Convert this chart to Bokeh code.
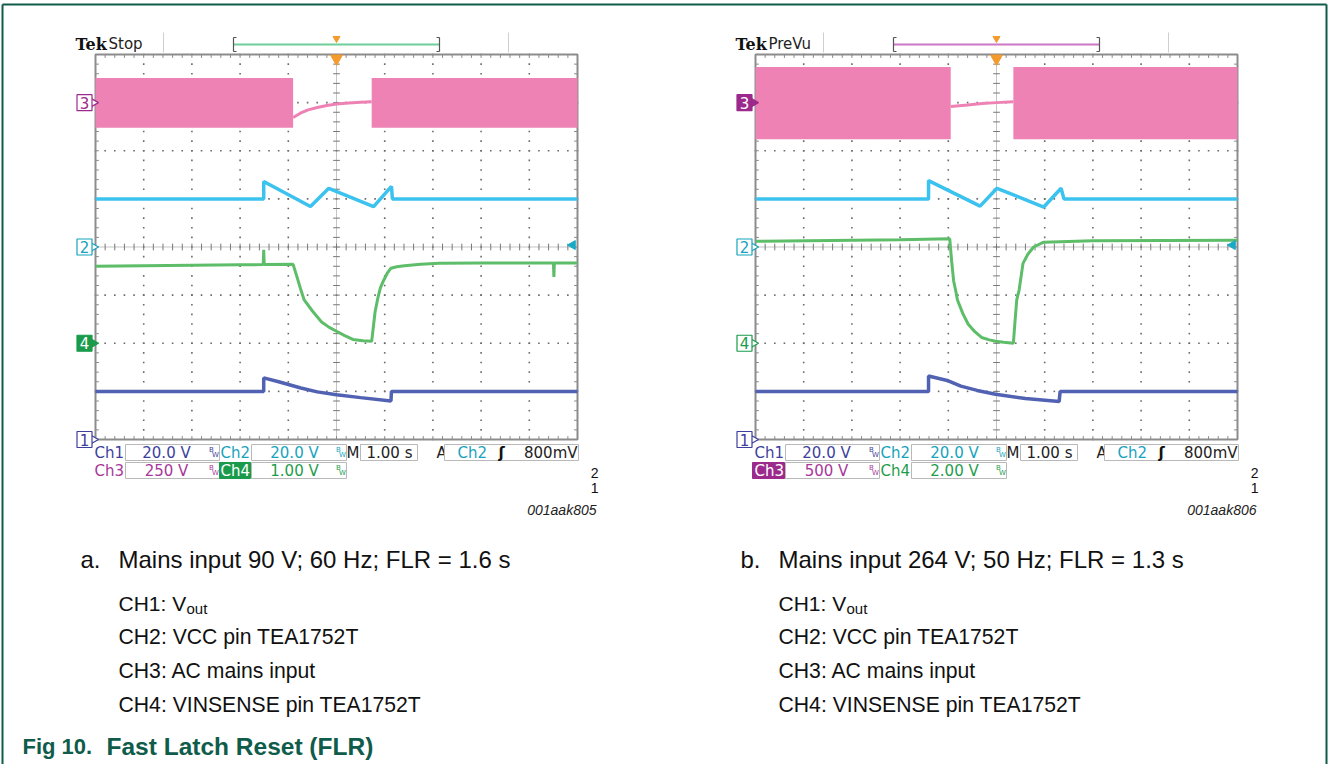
import numpy as np
from bokeh.plotting import figure
from bokeh.models import Range1d
from bokeh.embed import file_html
from bokeh.resources import INLINE
from bokeh.core.properties import value

# ====================== DATA ======================
# horizontal: 1.00 s/div, trigger at t = 0 s ; vertical: screen divisions
time_span = [-5, 5]
div_span = [-4, 4]
ch_level = {"1": -4.0, "2": 0.0, "3": 3.0, "4": -2.0}   # channel ground markers (div)
trig_time = 0.0
trig_level = 0.04                                        # 800 mV on Ch2 at 20 V/div

# ---- panel a : mains 90 V, 60 Hz, FLR = 1.6 s ----
a_ch3_band = [2.48, 3.51]
a_ch3_off = [-0.90, 0.73]
a_ch3_t = [-0.90, -0.75, -0.59, -0.40, -0.20, 0.00, 0.25, 0.50, 0.73]
a_ch3_v = [2.69, 2.78, 2.85, 2.90, 2.94, 2.97, 2.99, 3.01, 3.02]
a_ch2_t = [-5.0, -1.51, -1.51, -0.54, -0.16, 0.77, 1.14, 1.16, 5.0]
a_ch2_v = [1.00, 1.00, 1.36, 0.84, 1.22, 0.84, 1.26, 1.00, 1.00]
a_ch4_t = [-5.0, -2.0, -1.52, -1.51, -1.50, -0.90, -0.82, -0.74, -0.67, -0.50, -0.31, -0.15,
           0.00, 0.17, 0.34, 0.55, 0.73, 0.80, 0.86, 0.91, 0.98, 1.05, 1.13, 1.25, 1.41,
           1.75, 2.13, 3.00, 4.50, 4.51, 4.52, 5.0]
a_ch4_v = [-0.40, -0.37, -0.365, -0.06, -0.365, -0.36, -0.62, -0.89, -1.10, -1.33, -1.56, -1.67,
           -1.75, -1.84, -1.92, -1.95, -1.96, -1.35, -1.05, -0.85, -0.69, -0.55, -0.44, -0.41, -0.39,
           -0.36, -0.34, -0.33, -0.33, -0.62, -0.33, -0.33]
a_ch1_t = [-5.0, -1.51, -1.51, -1.20, -0.74, -0.40, 0.00, 0.50, 1.13, 1.14, 5.0]
a_ch1_v = [-3.0, -3.0, -2.72, -2.80, -2.93, -3.01, -3.07, -3.13, -3.20, -3.0, -3.0]
a_settings = {"ch1": "20.0 V", "ch2": "20.0 V", "ch3": "250 V", "ch4": "1.00 V",
              "time": "1.00 s", "trig": "800mV", "state": "Stop", "id": "001aak805"}

# ---- panel b : mains 264 V, 50 Hz, FLR = 1.3 s ----
b_ch3_band = [2.24, 3.74]
b_ch3_off = [-0.95, 0.35]
b_ch3_t = [-0.95, -0.60, -0.30, 0.00, 0.35]
b_ch3_v = [2.92, 2.95, 2.98, 3.00, 3.02]
b_ch2_t = [-5.0, -1.41, -1.41, -0.34, 0.01, 0.98, 1.34, 1.40, 5.0]
b_ch2_v = [1.00, 1.00, 1.38, 0.85, 1.22, 0.83, 1.22, 1.00, 1.00]
b_ch4_t = [-5.0, -2.0, -0.97, -0.93, -0.89, -0.85, -0.81, -0.70, -0.59, -0.45, -0.31, -0.15,
           -0.02, 0.15, 0.35, 0.38, 0.42, 0.47, 0.55, 0.65, 0.77, 0.98, 2.0, 5.0]
b_ch4_v = [0.12, 0.15, 0.17, -0.30, -0.70, -0.89, -1.10, -1.38, -1.60, -1.76, -1.88, -1.93,
           -1.96, -1.98, -2.00, -1.60, -1.10, -0.89, -0.34, -0.15, 0.00, 0.10, 0.13, 0.14]
b_ch1_t = [-5.0, -1.41, -1.41, -1.00, -0.74, -0.40, -0.02, 0.60, 1.30, 1.32, 5.0]
b_ch1_v = [-3.0, -3.0, -2.68, -2.78, -2.89, -2.98, -3.06, -3.15, -3.21, -3.0, -3.0]
b_settings = {"ch1": "20.0 V", "ch2": "20.0 V", "ch3": "500 V", "ch4": "2.00 V",
              "time": "1.00 s", "trig": "800mV", "state": "PreVu", "id": "001aak806"}

captions_a = ["a.", "Mains input 90 V; 60 Hz; FLR = 1.6 s"]
captions_b = ["b.", "Mains input 264 V; 50 Hz; FLR = 1.3 s"]
ch_lines = ["CH2: VCC pin TEA1752T", "CH3: AC mains input", "CH4: VINSENSE pin TEA1752T"]
fig_title = ["Fig 10.", "Fast Latch Reset (FLR)"]

# ====================== STYLE ======================
C_CH1, C_CH2, C_CH3, C_CH4 = "#5262b3", "#3cc2ee", "#ee82b5", "#5dbd69"
T_CH1, T_CH2, T_CH3, T_CH4 = "#3d3f9e", "#17a3bd", "#a7379b", "#1f9d4c"
F_CH3, F_CH4 = "#9c2a8c", "#1a9b4c"
GREEN = "#0f5c4a"
SCOPE_FONT = "DejaVu Sans"

W, H = 1328, 764
X0, Y0 = 0, 0
GY_TOP, GY_BOT = 54, 439


def lin(q, q0, q1, v0, v1):
    return v0 + (q - q0) * (v1 - v0) / (q1 - q0)


p = figure(width=W, height=H, x_range=Range1d(X0, X0 + W), y_range=Range1d(Y0 + H, Y0),
           x_axis_type=None, y_axis_type=None, toolbar_location=None, output_backend="svg",
           min_border=0, min_border_left=0, min_border_right=0, min_border_top=0,
           min_border_bottom=0, outline_line_color=None, background_fill_color="white",
           border_fill_color="white")
p.xgrid.visible = False
p.ygrid.visible = False

panels = [dict(gx0=95, gx1=577, dx=0, xr="ta", d=dict(band=a_ch3_band, off=a_ch3_off,
               c3=(a_ch3_t, a_ch3_v), c2=(a_ch2_t, a_ch2_v), c4=(a_ch4_t, a_ch4_v),
               c1=(a_ch1_t, a_ch1_v)), s=a_settings, cap=captions_a, hl="#6fcf9b",
               m3_fill=False, m4_fill=True),
          dict(gx0=755, gx1=1237, dx=660, xr="tb", d=dict(band=b_ch3_band, off=b_ch3_off,
               c3=(b_ch3_t, b_ch3_v), c2=(b_ch2_t, b_ch2_v), c4=(b_ch4_t, b_ch4_v),
               c1=(b_ch1_t, b_ch1_v)), s=b_settings, cap=captions_b, hl="#cc78c4",
               m3_fill=True, m4_fill=False)]

p.extra_y_ranges = {"v": Range1d(start=lin(Y0 + H, GY_TOP, GY_BOT, div_span[1], div_span[0]),
                                 end=lin(Y0, GY_TOP, GY_BOT, div_span[1], div_span[0]))}
p.extra_x_ranges = {pn["xr"]: Range1d(start=lin(X0, pn["gx0"], pn["gx1"], time_span[0], time_span[1]),
                                      end=lin(X0 + W, pn["gx0"], pn["gx1"], time_span[0], time_span[1]))
                    for pn in panels}


def T(x, y, s, size, color="#111111", font="Liberation Sans", align="left", baseline="middle",
      style="normal", xr="default", yr="default"):
    p.text(x=[x], y=[y], text=[s], text_font=value(font), text_font_size=value(f"{size}px"),
           text_color=color, text_align=align, text_baseline=baseline, text_font_style=style,
           x_range_name=xr, y_range_name=yr)


def box(l, r, t, b, fill="white", line="#b9b9b9"):
    p.quad(left=[l], right=[r], top=[t], bottom=[b], fill_color=fill, line_color=line, line_width=1)


def bw(x, y, color):
    T(x, y - 3, "B", 7, color, font=SCOPE_FONT, align="center")
    T(x + 4, y + 2, "W", 7, color, font=SCOPE_FONT, align="center")


# page frame
p.segment(x0=[2, 2, 1326], y0=[4, 4, 4], x1=[1326, 2, 1326], y1=[4, 764, 764],
          line_color=GREEN, line_width=2)

xs = np.round(np.arange(time_span[0], time_span[1] + 1e-9, 0.2), 3)
ys = np.round(np.arange(div_span[0], div_span[1] + 1e-9, 0.2), 3)
tick = 0.07

for pn in panels:
    xr, dx, d, s = pn["xr"], pn["dx"], pn["d"], pn["s"]
    kw = dict(x_range_name=xr, y_range_name="v")

    # ---- graticule ----
    gx, gy = [], []
    for k in range(-4, 5):
        if k != 0:
            gx += [k] * len(ys)
            gy += list(ys)
    for k in range(-3, 4):
        if k != 0:
            gx += list(xs)
            gy += [k] * len(xs)
    p.scatter(gx, gy, marker="square", size=1.6, fill_color="#6a6a6a", line_color=None, **kw)
    p.segment(x0=[time_span[0], 0], y0=[0, div_span[0]], x1=[time_span[1], 0], y1=[0, div_span[1]],
              line_color="#8a8a8a", line_width=1, line_dash="1 1", **kw)
    p.segment(x0=xs, y0=[-tick] * len(xs), x1=xs, y1=[tick] * len(xs), line_color="#777777", **kw)
    p.segment(x0=[-tick] * len(ys), y0=ys, x1=[tick] * len(ys), y1=ys, line_color="#777777", **kw)
    p.segment(x0=xs, y0=[div_span[1]] * len(xs), x1=xs, y1=[div_span[1] - tick] * len(xs), line_color="#888888", **kw)
    p.segment(x0=xs, y0=[div_span[0]] * len(xs), x1=xs, y1=[div_span[0] + tick] * len(xs), line_color="#888888", **kw)
    p.segment(x0=[time_span[0]] * len(ys), y0=ys, x1=[time_span[0] + tick] * len(ys), y1=ys, line_color="#888888", **kw)
    p.segment(x0=[time_span[1]] * len(ys), y0=ys, x1=[time_span[1] - tick] * len(ys), y1=ys, line_color="#888888", **kw)
    p.quad(left=[time_span[0]], right=[time_span[1]], bottom=[div_span[0]], top=[div_span[1]],
           fill_color=None, line_color="#8c8c8c", line_width=2, **kw)

    # ---- traces ----
    lo, hi = d["band"]
    off0, off1 = d["off"]
    p.varea(x=[time_span[0], off0], y1=[lo, lo], y2=[hi, hi], fill_color=C_CH3, **kw)
    p.varea(x=[off1, time_span[1]], y1=[lo, lo], y2=[hi, hi], fill_color=C_CH3, **kw)
    p.line(d["c3"][0], d["c3"][1], line_color=C_CH3, line_width=3, **kw)
    p.line(d["c2"][0], d["c2"][1], line_color=C_CH2, line_width=3.5, **kw)
    p.line(d["c4"][0], d["c4"][1], line_color=C_CH4, line_width=3, **kw)
    p.line(d["c1"][0], d["c1"][1], line_color=C_CH1, line_width=3.5, **kw)

    # ---- trigger markers ----
    p.scatter([trig_time], [GY_TOP + 4], marker="inverted_triangle", size=12, fill_color="#f39b2d",
              line_color="#f39b2d", x_range_name=xr)
    p.scatter([trig_time], [38], marker="inverted_triangle", size=7, fill_color="#f39b2d",
              line_color="#f39b2d", x_range_name=xr)
    p.scatter([time_span[1] - 0.1], [trig_level], marker="triangle", angle=np.pi / 2, size=9,
              fill_color="#19a9c4", line_color="#19a9c4", **kw)

    # ---- channel ground markers ----
    for ch, col, txt, filled in [("3", T_CH3, T_CH3, pn["m3_fill"]), ("2", T_CH2, T_CH2, False),
                                 ("4", F_CH4, T_CH4, pn["m4_fill"]), ("1", T_CH1, T_CH1, False)]:
        fcol = (F_CH3 if ch == "3" else col) if filled else "white"
        lcol = (F_CH3 if ch == "3" else col)
        p.scatter([91 + dx], [ch_level[ch]], marker="triangle", angle=-np.pi / 2, size=12,
                  fill_color=fcol, line_color=lcol, line_width=1.2, y_range_name="v")
        p.rect(x=[84 + dx], y=[ch_level[ch]], width=15, height=16, height_units="screen",
               fill_color=fcol, line_color=lcol, line_width=1.2, y_range_name="v")
        T(84 + dx, ch_level[ch], ch, 15, "white" if filled else lcol, font=SCOPE_FONT,
          align="center", yr="v")

    # ---- header ----
    T(75 + dx, 44, "Tek", 16, "#111111", font="DejaVu Serif", style="bold")
    T(108 + dx, 43, s["state"], 15, "#222222", font=SCOPE_FONT)
    p.segment(x0=[163 + dx, 508 + dx], y0=[32, 32], x1=[163 + dx, 508 + dx], y1=[52, 52],
              line_color="#cfcfcf", line_width=1)
    p.segment(x0=[233 + dx], y0=[44], x1=[439 + dx], y1=[44], line_color=pn["hl"], line_width=2)
    p.segment(x0=[233 + dx, 439 + dx, 233 + dx, 233 + dx, 436 + dx, 436 + dx],
              y0=[37, 37, 37, 51, 37, 51], x1=[233 + dx, 439 + dx, 236 + dx, 236 + dx, 439 + dx, 439 + dx],
              y1=[51, 51, 37, 51, 37, 51], line_color="#555555", line_width=1.2)

    # ---- status bar ----
    r1, r2 = 452, 470
    T(94 + dx, r1, "Ch1", 15, T_CH1, font=SCOPE_FONT)
    box(125 + dx, 219 + dx, 444, 460)
    T(166 + dx, r1, s["ch1"], 15, T_CH1, font=SCOPE_FONT, align="center")
    bw(211 + dx, r1, T_CH1)
    T(220 + dx, r1, "Ch2", 15, T_CH2, font=SCOPE_FONT)
    box(251 + dx, 346 + dx, 444, 460)
    T(294 + dx, r1, s["ch2"], 15, T_CH2, font=SCOPE_FONT, align="center")
    bw(338 + dx, r1, T_CH2)
    T(346 + dx, r1, "M", 15, "#222222", font=SCOPE_FONT)
    box(360 + dx, 417 + dx, 444, 460)
    T(389 + dx, r1, s["time"], 15, "#222222", font=SCOPE_FONT, align="center")
    T(436 + dx, r1, "A", 15, "#222222", font=SCOPE_FONT)
    box(444 + dx, 578 + dx, 444, 460)
    T(457 + dx, r1, "Ch2", 15, T_CH2, font=SCOPE_FONT)
    T(501 + dx, r1, "ʃ", 15, "#111111", font=SCOPE_FONT, align="center", style="bold")
    T(577 + dx, r1, s["trig"], 15, "#222222", font=SCOPE_FONT, align="right")

    if pn["m3_fill"]:
        box(92 + dx, 124 + dx, 462, 478, fill=F_CH3, line=F_CH3)
        T(94 + dx, r2, "Ch3", 15, "white", font=SCOPE_FONT)
    else:
        T(94 + dx, r2, "Ch3", 15, T_CH3, font=SCOPE_FONT)
    box(125 + dx, 219 + dx, 462, 478)
    T(166 + dx, r2, s["ch3"], 15, T_CH3, font=SCOPE_FONT, align="center")
    bw(211 + dx, r2, T_CH3)
    if pn["m4_fill"]:
        box(219 + dx, 250 + dx, 462, 478, fill=F_CH4, line=F_CH4)
        T(220 + dx, r2, "Ch4", 15, "white", font=SCOPE_FONT)
    else:
        T(220 + dx, r2, "Ch4", 15, T_CH4, font=SCOPE_FONT)
    box(251 + dx, 346 + dx, 462, 478)
    T(294 + dx, r2, s["ch4"], 15, T_CH4, font=SCOPE_FONT, align="center")
    bw(338 + dx, r2, T_CH4)

    T(598 + dx, 472, "2", 14, "#111111", align="right")
    T(598 + dx, 487, "1", 14, "#111111", align="right")
    T(596 + dx, 509, s["id"], 14, "#222222", align="right", style="italic")

    # ---- captions ----
    T(80 + dx, 559, pn["cap"][0], 24, "#111111")
    T(118 + dx, 559, pn["cap"][1], 24, "#111111")
    T(118 + dx, 603, "CH1: V", 21, "#111111")
    T(186 + dx, 608, "out", 15, "#111111")
    for i, line in enumerate(ch_lines):
        T(118 + dx, 636 + 34 * i, line, 21.2, "#111111")

T(22, 746, fig_title[0], 22, GREEN, style="bold")
T(106, 746, fig_title[1], 24.5, GREEN, style="bold")

open("out.html", "w").write(file_html(p, INLINE))
